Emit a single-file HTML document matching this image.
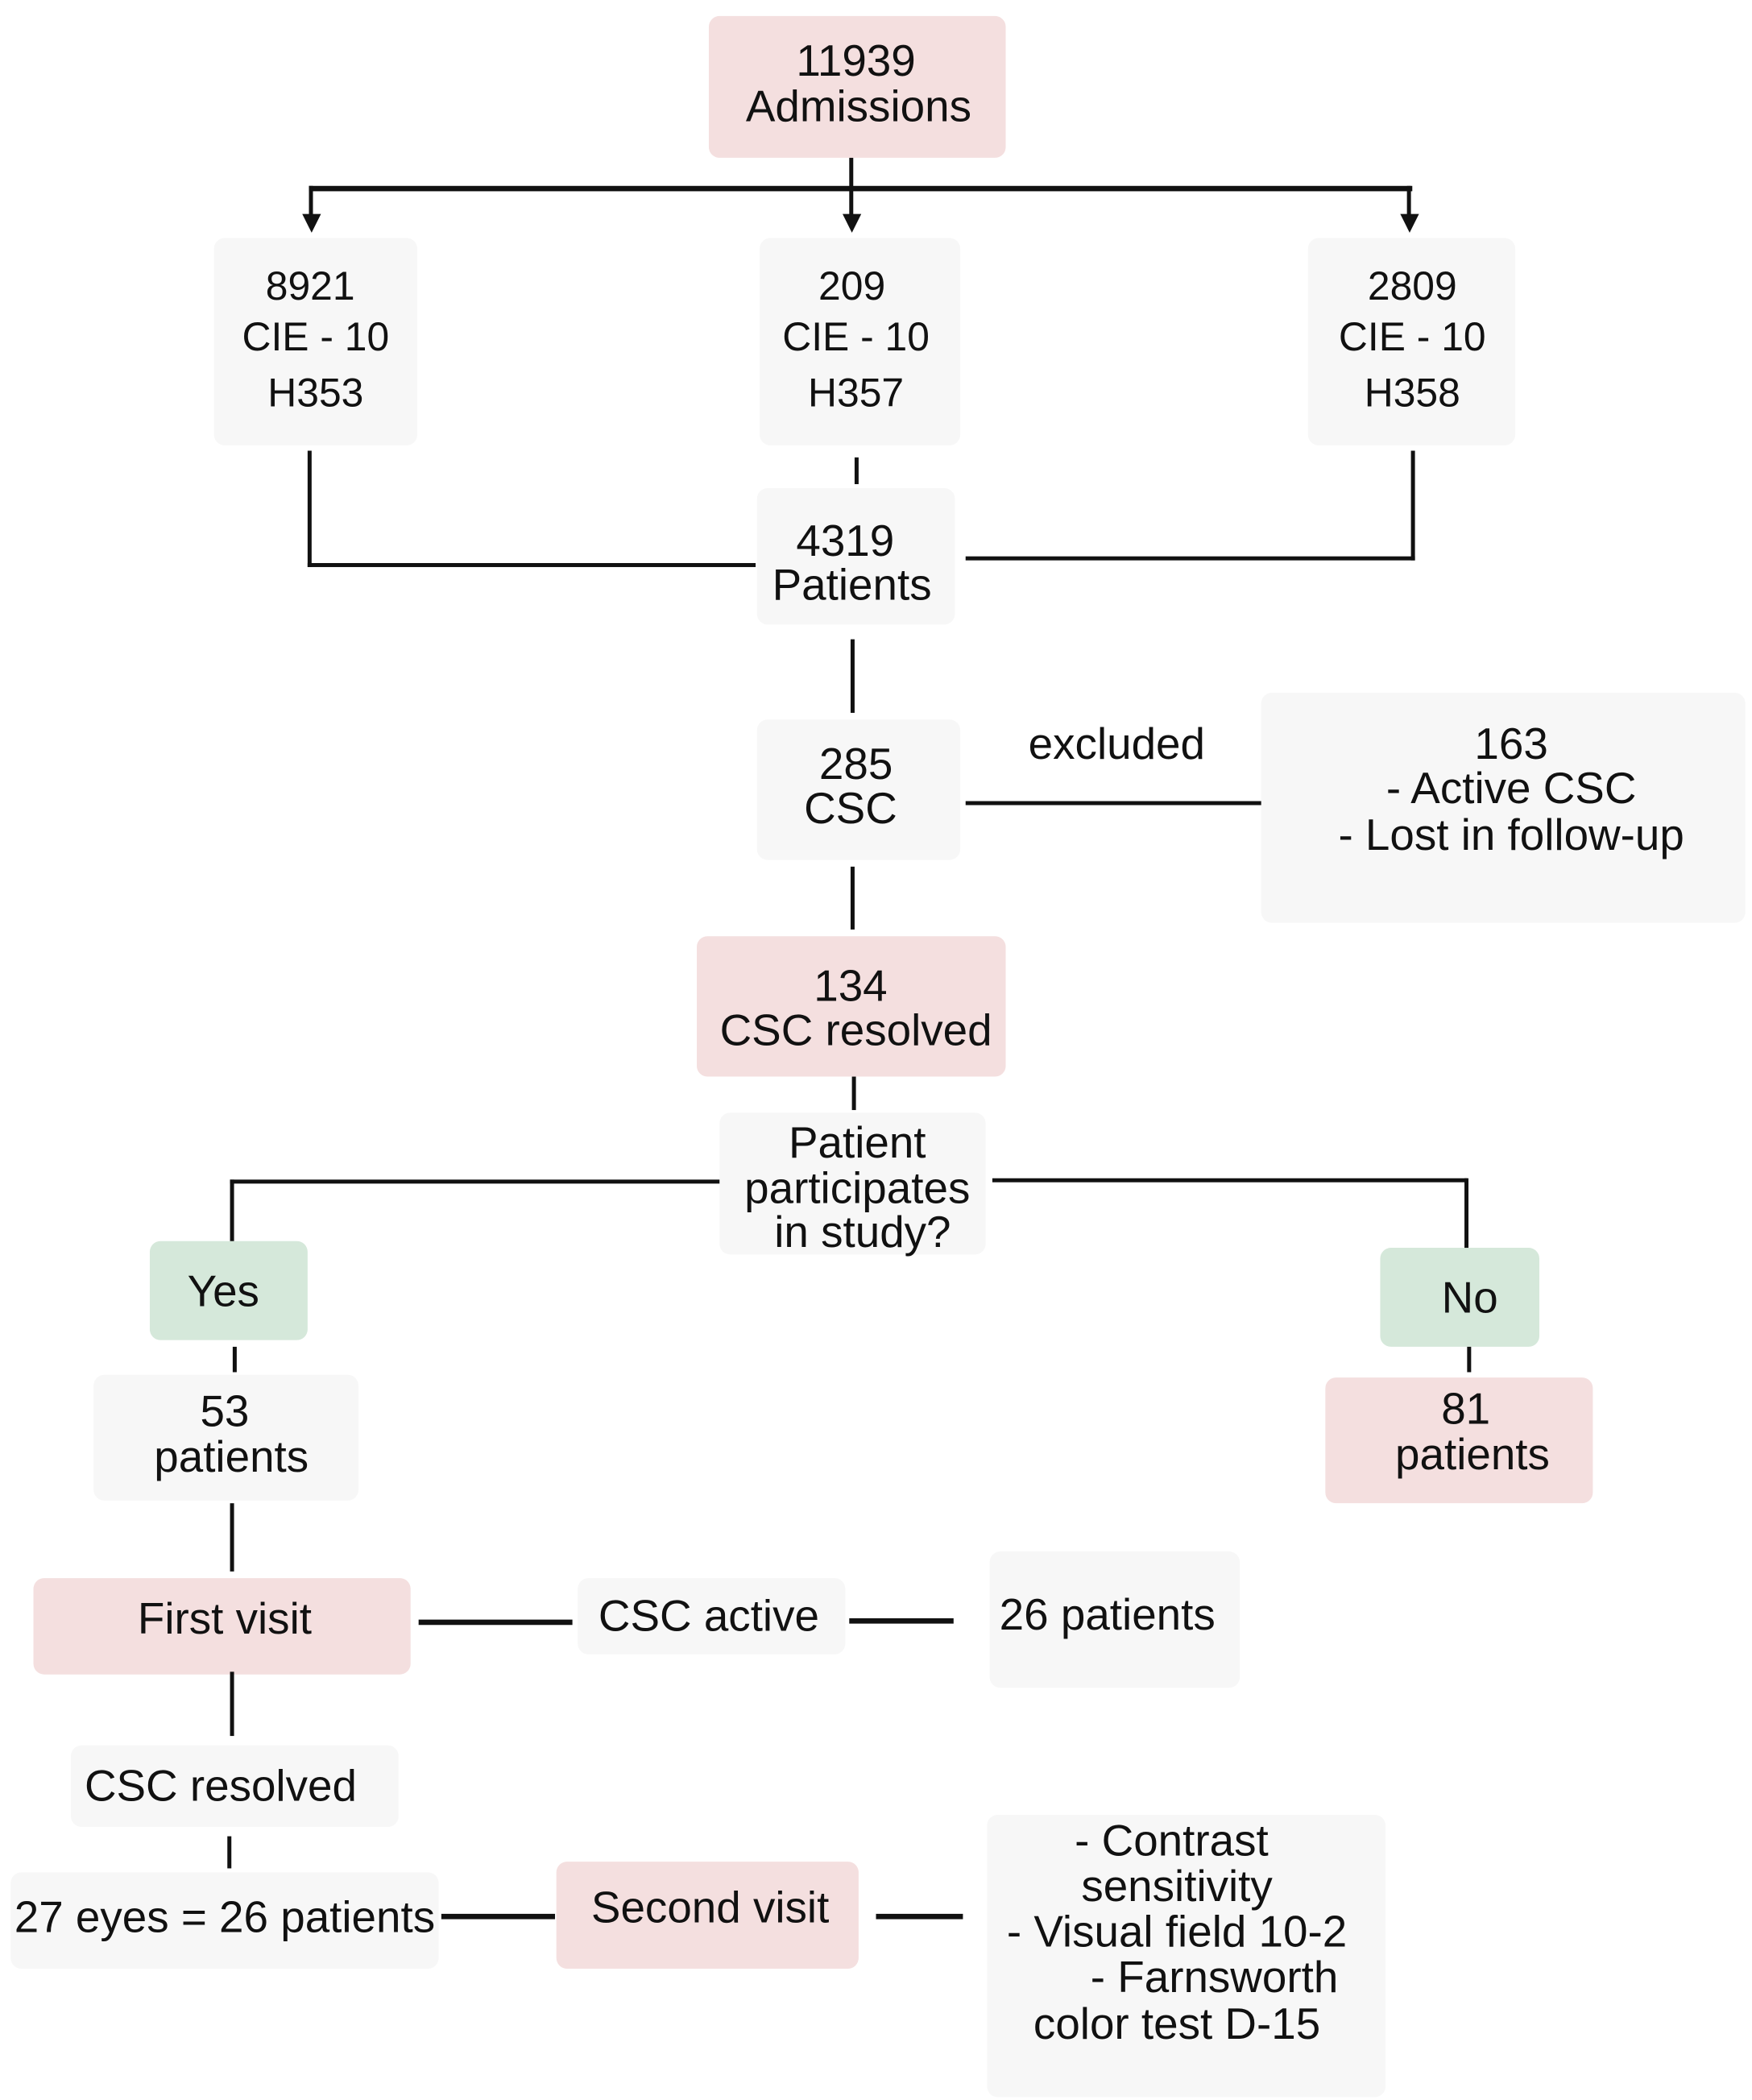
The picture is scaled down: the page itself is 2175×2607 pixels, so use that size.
<!DOCTYPE html>
<html><head><meta charset="utf-8">
<style>
html,body{margin:0;padding:0;background:#fff;}
body{width:2175px;height:2606px;overflow:hidden;position:relative;}
#c{position:absolute;left:0;top:0;width:1310px;height:1570px;transform:scale(1.6603);transform-origin:0 0;font-family:"Liberation Sans",Arial,sans-serif;color:#111;}
.b{position:absolute;border-radius:8px;}
.p{background:#f4dfdf;}
.g{background:#f7f7f7;}
.gr{background:#d5e8da;}
.l{position:absolute;background:#111;}
.t{position:absolute;transform:translate(-50%,-50%);white-space:nowrap;font-size:33px;line-height:1;}
.s{font-size:30px;}
.a{position:absolute;width:0;height:0;border-left:7px solid transparent;border-right:7px solid transparent;border-top:14px solid #111;}
</style></head><body><div id="c">
<div class="b p" style="left:530px;top:12px;width:222px;height:106px"></div>
<div class="b g" style="left:160px;top:178px;width:152px;height:155px"></div>
<div class="b g" style="left:568px;top:178px;width:150px;height:155px"></div>
<div class="b g" style="left:978px;top:178px;width:155px;height:155px"></div>
<div class="b g" style="left:566px;top:365px;width:148px;height:102px"></div>
<div class="b g" style="left:566px;top:538px;width:152px;height:105px"></div>
<div class="b g" style="left:943px;top:518px;width:362px;height:172px"></div>
<div class="b p" style="left:521px;top:700px;width:231px;height:105px"></div>
<div class="b g" style="left:538px;top:832px;width:199px;height:106px"></div>
<div class="b gr" style="left:112px;top:928px;width:118px;height:74px"></div>
<div class="b gr" style="left:1032px;top:933px;width:119px;height:74px"></div>
<div class="b g" style="left:70px;top:1028px;width:198px;height:94px"></div>
<div class="b p" style="left:991px;top:1030px;width:200px;height:94px"></div>
<div class="b p" style="left:25px;top:1180px;width:282px;height:72px"></div>
<div class="b g" style="left:432px;top:1180px;width:200px;height:57px"></div>
<div class="b g" style="left:740px;top:1160px;width:187px;height:102px"></div>
<div class="b g" style="left:53px;top:1305px;width:245px;height:61px"></div>
<div class="b g" style="left:8px;top:1400px;width:320px;height:72px"></div>
<div class="b p" style="left:416px;top:1392px;width:226px;height:80px"></div>
<div class="b g" style="left:738px;top:1357px;width:298px;height:211px"></div>
<div class="l" style="left:635px;top:118px;width:3px;height:48px"></div>
<div class="l" style="left:231px;top:139px;width:825px;height:4px"></div>
<div class="l" style="left:231px;top:139px;width:3px;height:26px"></div>
<div class="l" style="left:1052px;top:139px;width:3px;height:26px"></div>
<div class="a" style="left:226px;top:160px"></div>
<div class="a" style="left:630px;top:160px"></div>
<div class="a" style="left:1047px;top:160px"></div>
<div class="l" style="left:230px;top:337px;width:3px;height:87px"></div>
<div class="l" style="left:230px;top:421px;width:335px;height:3px"></div>
<div class="l" style="left:1055px;top:337px;width:3px;height:82px"></div>
<div class="l" style="left:722px;top:416px;width:336px;height:3px"></div>
<div class="l" style="left:639px;top:342px;width:3px;height:20px"></div>
<div class="l" style="left:636px;top:478px;width:3px;height:55px"></div>
<div class="l" style="left:722px;top:599px;width:221px;height:3px"></div>
<div class="l" style="left:636px;top:648px;width:3px;height:47px"></div>
<div class="l" style="left:637px;top:805px;width:3px;height:25px"></div>
<div class="l" style="left:172px;top:882px;width:366px;height:3px"></div>
<div class="l" style="left:172px;top:882px;width:3px;height:46px"></div>
<div class="l" style="left:742px;top:881px;width:355px;height:3px"></div>
<div class="l" style="left:1095px;top:881px;width:3px;height:52px"></div>
<div class="l" style="left:174px;top:1007px;width:3px;height:19px"></div>
<div class="l" style="left:1097px;top:1007px;width:3px;height:19px"></div>
<div class="l" style="left:172px;top:1124px;width:3px;height:51px"></div>
<div class="l" style="left:313px;top:1211px;width:115px;height:4px"></div>
<div class="l" style="left:635px;top:1210px;width:78px;height:4px"></div>
<div class="l" style="left:172px;top:1250px;width:3px;height:48px"></div>
<div class="l" style="left:170px;top:1373px;width:3px;height:24px"></div>
<div class="l" style="left:330px;top:1431px;width:85px;height:4px"></div>
<div class="l" style="left:655px;top:1431px;width:65px;height:4px"></div>
<div class="t" style="left:640px;top:45px">11939</div>
<div class="t" style="left:642px;top:79px">Admissions</div>
<div class="t s" style="left:232px;top:215px">8921</div>
<div class="t s" style="left:236px;top:253px">CIE - 10</div>
<div class="t s" style="left:236px;top:295px">H353</div>
<div class="t s" style="left:637px;top:215px">209</div>
<div class="t s" style="left:640px;top:253px">CIE - 10</div>
<div class="t s" style="left:640px;top:295px">H357</div>
<div class="t s" style="left:1056px;top:215px">2809</div>
<div class="t s" style="left:1056px;top:253px">CIE - 10</div>
<div class="t s" style="left:1056px;top:295px">H358</div>
<div class="t" style="left:632px;top:404px">4319</div>
<div class="t" style="left:637px;top:437px">Patients</div>
<div class="t" style="left:640px;top:571px">285</div>
<div class="t" style="left:636px;top:604px">CSC</div>
<div class="t" style="left:835px;top:556px">excluded</div>
<div class="t" style="left:1130px;top:556px">163</div>
<div class="t" style="left:1130px;top:589px">- Active CSC</div>
<div class="t" style="left:1130px;top:624px">- Lost in follow-up</div>
<div class="t" style="left:636px;top:737px">134</div>
<div class="t" style="left:640px;top:770px">CSC resolved</div>
<div class="t" style="left:641px;top:854px">Patient</div>
<div class="t" style="left:641px;top:888px">participates</div>
<div class="t" style="left:645px;top:921px">in study?</div>
<div class="t" style="left:167px;top:965px">Yes</div>
<div class="t" style="left:1099px;top:970px">No</div>
<div class="t" style="left:168px;top:1055px">53</div>
<div class="t" style="left:173px;top:1089px">patients</div>
<div class="t" style="left:1096px;top:1053px">81</div>
<div class="t" style="left:1101px;top:1087px">patients</div>
<div class="t" style="left:168px;top:1210px">First visit</div>
<div class="t" style="left:530px;top:1208px">CSC active</div>
<div class="t" style="left:828px;top:1207px">26 patients</div>
<div class="t" style="left:165px;top:1335px">CSC resolved</div>
<div class="t" style="left:168px;top:1433px">27 eyes = 26 patients</div>
<div class="t" style="left:531px;top:1426px">Second visit</div>
<div class="t" style="left:876px;top:1376px">- Contrast</div>
<div class="t" style="left:880px;top:1410px">sensitivity</div>
<div class="t" style="left:880px;top:1444px">- Visual field 10-2</div>
<div class="t" style="left:908px;top:1478px">- Farnsworth</div>
<div class="t" style="left:880px;top:1513px">color test D-15</div>
</div></body></html>
